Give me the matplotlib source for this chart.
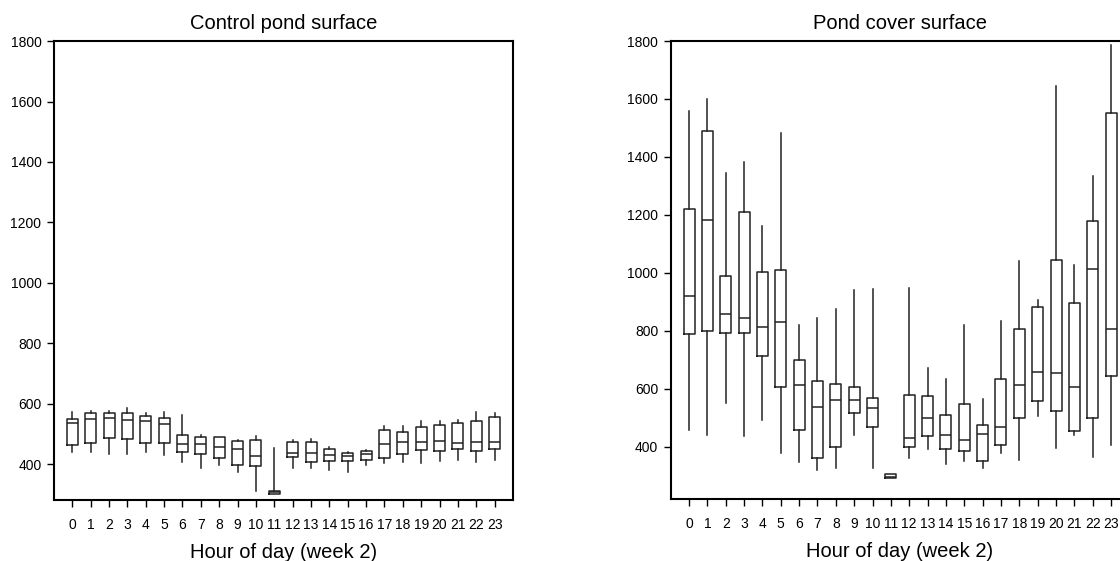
import matplotlib
matplotlib.use("Agg")
import matplotlib.pyplot as plt

plt.rcParams['font.family'] = ['Liberation Sans', 'DejaVu Sans']

hours = list(range(24))

# control pond surface (week 2): whisker low, q1, median, q3, whisker high
ctrl_low = [439, 439, 432, 432, 439, 430, 408, 386, 396, 375, 310, 302,
            388, 386, 382, 375, 398, 402, 406, 402, 411, 412, 407, 413]
ctrl_q1 = [462, 470, 487, 482, 470, 470, 439, 432, 419, 396, 392, 302,
           423, 408, 409, 409, 414, 421, 434, 446, 442, 449, 442, 449]
ctrl_med = [537, 549, 553, 545, 541, 533, 465, 468, 458, 451, 427, 307,
            435, 436, 430, 427, 432, 467, 474, 474, 476, 470, 472, 472]
ctrl_q3 = [548, 568, 568, 568, 560, 551, 495, 488, 488, 477, 479, 312,
           472, 472, 450, 436, 442, 513, 505, 524, 528, 535, 541, 555]
ctrl_high = [571, 575, 575, 585, 570, 572, 564, 497, 490, 480, 492, 452,
             479, 482, 455, 439, 446, 526, 526, 542, 542, 545, 571, 570]

# pond cover surface (week 2)
cover_low = [459, 441, 550, 439, 494, 379, 346, 320, 326, 440, 326, 293,
             363, 394, 341, 350, 326, 379, 355, 505, 397, 440, 364, 405]
cover_q1 = [789, 798, 791, 793, 714, 607, 458, 363, 400, 518, 468, 294,
            398, 436, 391, 387, 350, 408, 501, 559, 524, 453, 499, 644]
cover_med = [921, 1183, 859, 845, 813, 830, 612, 539, 560, 561, 534, 297,
             431, 501, 441, 424, 445, 468, 613, 658, 654, 605, 1015, 806]
cover_q3 = [1222, 1489, 989, 1209, 1002, 1011, 698, 627, 618, 607, 568, 307,
            578, 575, 511, 548, 475, 634, 805, 884, 1045, 896, 1178, 1551]
cover_high = [1560, 1599, 1345, 1384, 1161, 1483, 821, 844, 877, 940, 943, 308,
              948, 671, 635, 820, 566, 834, 1041, 907, 1646, 1028, 1335, 1785]


def make_stats(low, q1, med, q3, high):
    stats = []
    for i in range(len(hours)):
        stats.append({'whislo': low[i], 'q1': q1[i], 'med': med[i],
                      'q3': q3[i], 'whishi': high[i], 'fliers': [],
                      'label': str(hours[i])})
    return stats


fig = plt.figure(figsize=(11.2, 5.61), dpi=100)
ax1 = fig.add_axes([0.0482, 0.1087, 0.4098, 0.818])
ax2 = fig.add_axes([0.5988, 0.1105, 0.4096, 0.8164])

line = dict(color='#222222', linewidth=1.1)
panels = [
    (ax1, make_stats(ctrl_low, ctrl_q1, ctrl_med, ctrl_q3, ctrl_high),
     "Control pond surface", (281, 1800)),
    (ax2, make_stats(cover_low, cover_q1, cover_med, cover_q3, cover_high),
     "Pond cover surface", (220, 1800)),
]

for ax, stats, title, ylim in panels:
    ax.bxp(stats, positions=hours, widths=0.6, showcaps=False,
           showfliers=False, boxprops=line, whiskerprops=line,
           medianprops=line)
    ax.set_xlim(-1, 24)
    ax.set_ylim(*ylim)
    ax.set_yticks([400, 600, 800, 1000, 1200, 1400, 1600, 1800])
    ax.set_xticks(hours)
    ax.set_xticklabels([str(h) for h in hours])
    ax.tick_params(axis='both', direction='out', length=5, width=1,
                   labelsize=10, colors='black', pad=4)
    ax.tick_params(axis='x', pad=8)
    for s in ax.spines.values():
        s.set_linewidth(1.5)
        s.set_color('black')
    ax.set_title(title, fontsize=14.5, pad=9)
    ax.set_xlabel("Hour of day (week 2)", fontsize=14.5, labelpad=8)

fig.savefig("out.png", dpi=100)
